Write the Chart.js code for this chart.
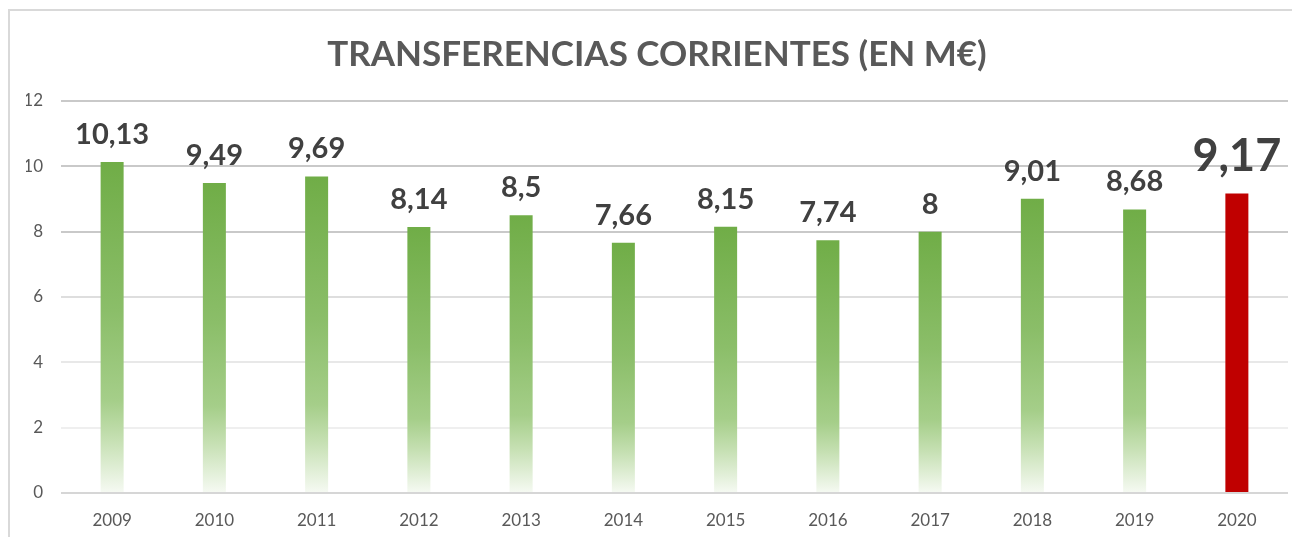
<!DOCTYPE html>
<html>
<head>
<meta charset="utf-8">
<script src="https://cdn.jsdelivr.net/npm/chart.js@4"></script>
<style>
  html, body { margin: 0; padding: 0; background: #fff; }
  #wrap { position: relative; width: 1292px; height: 537px; overflow: hidden; }
  #frame { position: absolute; left: 8px; top: 9px; width: 1300px; height: 540px; border: 2px solid #d9d9d9; box-sizing: border-box; }
  #chart { position: absolute; left: 0; top: 0; }
</style>
</head>
<body>
<div id="wrap">
  <div id="frame"></div>
  <canvas id="chart" width="1292" height="537"></canvas>
</div>
<script>
const years = ['2009', '2010', '2011', '2012', '2013', '2014', '2015', '2016', '2017', '2018', '2019', '2020'];
const values = [10.13, 9.49, 9.69, 8.14, 8.5, 7.66, 8.15, 7.74, 8, 9.01, 8.68, 9.17];
const highlightYear = '2020';
const yTicks = [0, 2, 4, 6, 8, 10, 12];

const FONT = 'Lato, "Open Sans", sans-serif';

// gradient from bar top down to the axis, like the excel fill
function barFill(context) {
    const chart = context.chart;
    if (years[context.dataIndex] === highlightYear) return '#c00000';
    if (!chart.chartArea || !chart.scales.y) return '#70ad47';
    const y = chart.scales.y;
    const top = y.getPixelForValue(context.raw);
    const bottom = y.getPixelForValue(0);
    const g = chart.ctx.createLinearGradient(0, top, 0, bottom);
    g.addColorStop(0, '#70ad47');
    g.addColorStop(0.45, '#8bbe69');
    g.addColorStop(0.72, '#a5ce89');
    g.addColorStop(0.84, '#c6e0b3');
    g.addColorStop(1, '#f6faf3');
    return g;
}

function gridColor(context) {
    const v = context.tick ? context.tick.value : 0;
    if (v >= 8) return '#c9c9c9';
    if (v === 6) return '#dedede';
    if (v === 4) return '#e8e8e8';
    if (v === 2) return '#efefef';
    return '#d6d6d6';
}

// value labels above each bar, 2020 bigger
const valueLabels = {
    id: 'valueLabels',
    afterDatasetsDraw(chart) {
        const ctx = chart.ctx;
        const meta = chart.getDatasetMeta(0);
        ctx.save();
        ctx.textAlign = 'center';
        ctx.textBaseline = 'alphabetic';
        ctx.fillStyle = '#404040';
        meta.data.forEach(function (bar, i) {
            const big = years[i] === highlightYear;
            ctx.font = 'bold ' + (big ? 45 : 29) + 'px ' + FONT;
            const txt = String(values[i]).replace('.', ',');
            ctx.fillText(txt, bar.x, bar.y - (big ? 22 : 18));
        });
        ctx.restore();
    }
};

new Chart(document.getElementById('chart'), {
    type: 'bar',
    data: {
        labels: years,
        datasets: [{
            data: values,
            backgroundColor: barFill,
            borderWidth: 0,
            categoryPercentage: 1,
            barPercentage: 0.225
        }]
    },
    options: {
        responsive: false,
        animation: false,
        layout: { padding: { left: 26, right: 4, top: 34, bottom: 0 } },
        plugins: {
            legend: { display: false },
            tooltip: { enabled: false },
            title: {
                display: true,
                text: 'TRANSFERENCIAS CORRIENTES (EN M€)',
                color: '#595959',
                font: { family: FONT, size: 35, weight: 'bold' },
                padding: { top: 0, bottom: 25 }
            }
        },
        scales: {
            y: {
                min: 0,
                max: 12,
                afterBuildTicks: function (scale) {
                    scale.ticks = yTicks.map(v => ({ value: v }));
                },
                afterFit: function (scale) { scale.width = 35; },
                border: { display: false },
                grid: { color: gridColor, lineWidth: 2, drawTicks: false },
                ticks: {
                    color: '#595959',
                    padding: 18,
                    font: { family: FONT, size: 17 }
                }
            },
            x: {
                afterFit: function (scale) { scale.height = 44; },
                border: { display: false },
                grid: { display: false },
                ticks: {
                    color: '#595959',
                    padding: 9,
                    font: { family: FONT, size: 17 }
                }
            }
        }
    },
    plugins: [valueLabels]
});
</script>
</body>
</html>
